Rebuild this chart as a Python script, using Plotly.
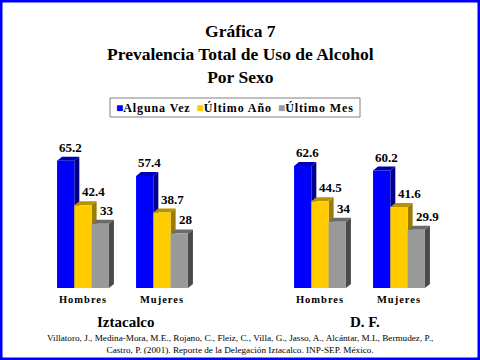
import plotly.graph_objects as go

# ---------------- data ----------------
series_names = ["Alguna Vez", "Último Año", "Último Mes"]
categories = ["Hombres", "Mujeres"]
panel_names = ["Iztacalco", "D. F."]

izt_alguna_vez = [65.2, 57.4]
izt_ultimo_anio = [42.4, 38.7]
izt_ultimo_mes = [33, 28]

df_alguna_vez = [62.6, 60.2]
df_ultimo_anio = [44.5, 41.6]
df_ultimo_mes = [34, 29.9]

title_lines = ["Gráfica 7", "Prevalencia Total de Uso de Alcohol", "Por Sexo"]
citation_lines = [
    "Villatoro, J., Medina-Mora, M.E., Rojano, C., Fleiz, C., Villa, G., Jasso, A., Alcántar, M.L, Bermudez, P.,",
    "Castro, P. (2001). Reporte de la Delegación Iztacalco. INP-SEP. México.",
]

# ---------------- style ----------------
front_colors = ["#0000ff", "#ffcc00", "#999999"]
side_colors = ["#000088", "#9c7c00", "#4a4a4a"]
top_colors = ["#0000b0", "#b89200", "#6a6a6a"]
label_xshift = [0, 6, 6]
FONT = "Times New Roman, Liberation Serif, serif"

panels = [
    (izt_alguna_vez, izt_ultimo_anio, izt_ultimo_mes),
    (df_alguna_vez, df_ultimo_anio, df_ultimo_mes),
]
axis_ids = [("x", "y"), ("x2", "y2")]

bw = 0.219      # width of one bar (x units)
dx = 0.063      # 3D depth in x units
dy = 2.05       # 3D depth in y units

fig = go.Figure()
shapes = []
annotations = []

for p, (series_vals, (xa, ya)) in enumerate(zip(panels, axis_ids)):
    for i, vals in enumerate(series_vals):
        off = (i - 1.5) * bw
        fig.add_trace(go.Bar(
            x=list(range(len(categories))), y=vals,
            width=bw, offset=off,
            marker=dict(color=front_colors[i], line=dict(width=0)),
            name=series_names[i], showlegend=False,
            xaxis=xa, yaxis=ya, hoverinfo="skip",
        ))
        for c, v in enumerate(vals):
            x0 = c + off
            x1 = x0 + bw
            shapes.append(dict(
                type="path", xref=xa, yref=ya, layer="below",
                path=f"M {x1},0 L {x1+dx},{dy} L {x1+dx},{v+dy} L {x1},{v} Z",
                fillcolor=side_colors[i], line=dict(width=0)))
            shapes.append(dict(
                type="path", xref=xa, yref=ya, layer="below",
                path=f"M {x0},{v} L {x0+dx},{v+dy} L {x1+dx},{v+dy} L {x1},{v} Z",
                fillcolor=top_colors[i], line=dict(width=0)))
            annotations.append(dict(
                x=x0, y=v + dy, xref=xa, yref=ya, text=f"<b>{v:g}</b>",
                xanchor="left", yanchor="bottom", xshift=label_xshift[i],
                yshift=0, showarrow=False,
                font=dict(family=FONT, size=13, color="black")))

# panel names
for name, xc in zip(panel_names, [125 / 480, 365 / 480]):
    annotations.append(dict(
        x=xc, y=(360 - 322) / 360, xref="paper", yref="paper", text=f"<b>{name}</b>",
        showarrow=False, xanchor="center", yanchor="middle",
        font=dict(family=FONT, size=15, color="black")))

# title
annotations.append(dict(
    x=0.5, y=(360 - 54) / 360, xref="paper", yref="paper",
    text="<br>".join(f"<b>{t}</b>" for t in title_lines),
    showarrow=False, xanchor="center", yanchor="middle",
    font=dict(family=FONT, size=17.5, color="black")))

# citation
annotations.append(dict(
    x=0.5, y=(360 - 344) / 360, xref="paper", yref="paper",
    text="<br>".join(citation_lines),
    showarrow=False, xanchor="center", yanchor="middle",
    font=dict(family=FONT, size=9.2, color="black")))

# legend (text annotation inside a bordered box)
legend_text = "&nbsp;".join(
    f"<span style='color:{col}'>■</span><span style='letter-spacing:0.9px'><b>{n}</b></span>&nbsp;"
    for col, n in zip(front_colors, series_names))
shapes.append(dict(type="rect", xref="paper", yref="paper",
                   x0=110 / 480, x1=360 / 480, y0=(360 - 117) / 360, y1=(360 - 98) / 360,
                   line=dict(color="#808080", width=1), fillcolor="white", layer="below"))
annotations.append(dict(
    x=236 / 480, y=(360 - 107.5) / 360, xref="paper", yref="paper",
    text=legend_text, showarrow=False, xanchor="center", yanchor="middle",
    font=dict(family=FONT, size=12, color="black")))

# frame
shapes.append(dict(type="rect", xref="paper", yref="paper", x0=0, y0=0, x1=1, y1=1,
                   line=dict(color="#0000ff", width=5), layer="above"))

xcommon = dict(range=[-0.5, 1.5], tickvals=list(range(len(categories))),
               ticktext=[f"<span style='letter-spacing:1px'><b>{c}</b></span>" for c in categories],
               showgrid=False, zeroline=False, showline=False, ticks="",
               ticklabelstandoff=3,
               tickfont=dict(family=FONT, size=10.5, color="black"), fixedrange=True)
ycommon = dict(range=[0, 80], showgrid=False, zeroline=False, showline=False,
               showticklabels=False, ticks="", domain=[0.2, 0.6333], fixedrange=True)

fig.update_layout(
    width=480, height=360,
    margin=dict(l=0, r=0, t=0, b=0),
    font=dict(family=FONT),
    paper_bgcolor="white", plot_bgcolor="white",
    barmode="overlay", showlegend=False,
    xaxis=dict(domain=[43.5 / 480, 201.5 / 480], anchor="y", **xcommon),
    xaxis2=dict(domain=[280.5 / 480, 438.5 / 480], anchor="y2", **xcommon),
    yaxis=dict(anchor="x", **ycommon),
    yaxis2=dict(anchor="x2", **ycommon),
    shapes=shapes, annotations=annotations,
)

fig.write_html("out.html", config={"displayModeBar": False},
               post_script="document.body.style.margin='0';document.body.style.overflow='hidden';")
